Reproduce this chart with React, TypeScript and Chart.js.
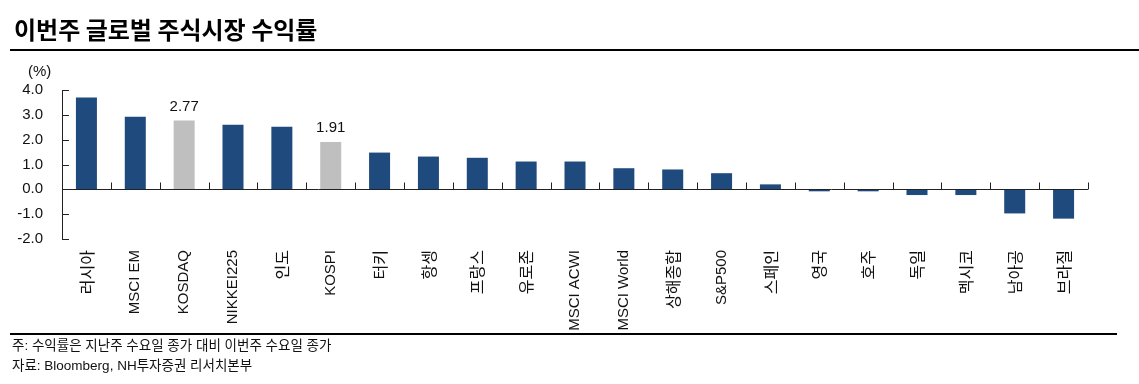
import React, { useEffect, useRef } from "react";
import { Chart, registerables } from "chart.js";

Chart.register(...registerables);

const categories = [
  "러시아", "MSCI EM", "KOSDAQ", "NIKKEI225", "인도", "KOSPI", "터키", "항셍", "프랑스", "유로존",
  "MSCI ACWI", "MSCI World", "상해종합", "S&P500", "스페인", "영국", "호주", "독일", "멕시코", "남아공", "브라질",
];
const returns = [
  3.7, 2.92, 2.77, 2.6, 2.52, 1.91, 1.48, 1.32, 1.27, 1.12,
  1.12, 0.85, 0.8, 0.65, 0.2, -0.08, -0.08, -0.23, -0.23, -0.97, -1.18,
];
const highlighted = ["KOSDAQ", "KOSPI"];
const yTicks = [-2, -1, 0, 1, 2, 3, 4];

const NAVY = "#1F4A7D";
const GRAY = "#BFBFBF";
const LATIN = "'Liberation Sans', Arial, 'Noto Sans CJK KR', sans-serif";
const KFONT = "'Noto Sans CJK KR', 'Liberation Sans', sans-serif";

const axesPlugin = {
  id: "customAxes",
  afterDatasetsDraw(chart: any) {
    const { ctx, chartArea, scales } = chart;
    const x = scales.x;
    const y = scales.y;
    const left = chartArea.left;
    const right = chartArea.right;
    const y0 = y.getPixelForValue(0);
    ctx.save();
    ctx.strokeStyle = "#222";
    ctx.lineWidth = 1;
    ctx.beginPath();
    const yTop = y.getPixelForValue(yTicks[yTicks.length - 1]);
    const yBot = y.getPixelForValue(yTicks[0]);
    ctx.moveTo(Math.round(left) + 0.5, yTop);
    ctx.lineTo(Math.round(left) + 0.5, yBot);
    yTicks.forEach((v) => {
      const py = Math.round(y.getPixelForValue(v)) + 0.5;
      ctx.moveTo(left, py);
      ctx.lineTo(left + 7, py);
    });
    const pz = Math.round(y0) + 0.5;
    ctx.moveTo(left, pz);
    ctx.lineTo(right, pz);
    for (let i = 0; i < categories.length; i++) {
      const bx =
        i < categories.length - 1
          ? (x.getPixelForTick(i) + x.getPixelForTick(i + 1)) / 2
          : right;
      const rx = Math.round(bx) + 0.5;
      ctx.moveTo(rx, pz);
      ctx.lineTo(rx, pz - 7);
    }
    ctx.stroke();

    ctx.fillStyle = "#111";
    ctx.font = "15px " + LATIN;
    ctx.textAlign = "center";
    ctx.textBaseline = "alphabetic";
    categories.forEach((c, i) => {
      if (highlighted.includes(c)) {
        const px = x.getPixelForValue(i);
        const py = y.getPixelForValue(returns[i]);
        ctx.fillText(returns[i].toFixed(2), px, py - 10);
      }
    });
    ctx.restore();
  },
};

const isHangul = (s: string) => /[\uac00-\ud7a3]/.test(s);

export default function App() {
  const ref = useRef<HTMLCanvasElement | null>(null);

  useEffect(() => {
    if (!ref.current) return;
    const chart = new Chart(ref.current, {
      type: "bar",
      data: {
        labels: categories,
        datasets: [
          {
            data: returns,
            backgroundColor: categories.map((c) => (highlighted.includes(c) ? GRAY : NAVY)),
            borderWidth: 0,
            barPercentage: 0.43,
            categoryPercentage: 1,
          },
        ],
      },
      options: {
        animation: false,
        responsive: false,
        maintainAspectRatio: false,
        devicePixelRatio: 1,
        layout: { padding: { top: 90, right: 51, bottom: 0, left: 0 } },
        plugins: { legend: { display: false }, tooltip: { enabled: false } },
        scales: {
          x: {
            type: "category",
            offset: true,
            grid: { display: false, drawTicks: false },
            border: { display: false },
            ticks: {
              autoSkip: false,
              minRotation: 90,
              maxRotation: 90,
              padding: 11,
              color: "#111",
              font: (ctx: any) => {
                const lbl = categories[ctx.index] || "";
                return isHangul(lbl)
                  ? { size: 16, family: KFONT }
                  : { size: 15, family: LATIN };
              },
            },
            afterFit: (s: any) => {
              s.height = 384 - 239;
            },
          },
          y: {
            min: -2,
            max: 4,
            grid: { display: false, drawTicks: false },
            border: { display: false },
            ticks: {
              stepSize: 1,
              padding: 19,
              color: "#111",
              font: { size: 15, family: LATIN },
              callback: (v: any) => Number(v).toFixed(1),
            },
            afterFit: (s: any) => {
              s.width = 62;
            },
          },
        },
      },
      plugins: [axesPlugin],
    });
    return () => chart.destroy();
  }, []);

  return (
    <div
      style={{
        position: "fixed",
        left: 0,
        top: 0,
        width: 1139,
        height: 384,
        background: "#fff",
        overflow: "hidden",
      }}
    >
      <canvas
        ref={ref}
        width={1139}
        height={384}
        style={{ position: "absolute", left: 0, top: 0, width: 1139, height: 384 }}
      />
      <div
        style={{
          position: "absolute",
          left: 14,
          top: 15,
          fontFamily: KFONT,
          fontWeight: 700,
          fontSize: 24,
          lineHeight: "28px",
          color: "#000",
          whiteSpace: "nowrap",
        }}
      >
        이번주 글로벌 주식시장 수익률
      </div>
      <div style={{ position: "absolute", left: 10, top: 49, width: 1129, height: 2, background: "#000" }} />
      <div
        style={{
          position: "absolute",
          left: 28,
          top: 62,
          fontFamily: LATIN,
          fontSize: 15,
          lineHeight: "18px",
          color: "#111",
        }}
      >
        (%)
      </div>
      <div style={{ position: "absolute", left: 10, top: 333, width: 1107, height: 2, background: "#000" }} />
      <div
        style={{
          position: "absolute",
          left: 12,
          top: 336,
          fontFamily: LATIN,
          fontSize: 13.5,
          lineHeight: "20px",
          color: "#111",
          whiteSpace: "nowrap",
        }}
      >
        <div>주: 수익률은 지난주 수요일 종가 대비 이번주 수요일 종가</div>
        <div>자료: Bloomberg, NH투자증권 리서치본부</div>
      </div>
    </div>
  );
}
